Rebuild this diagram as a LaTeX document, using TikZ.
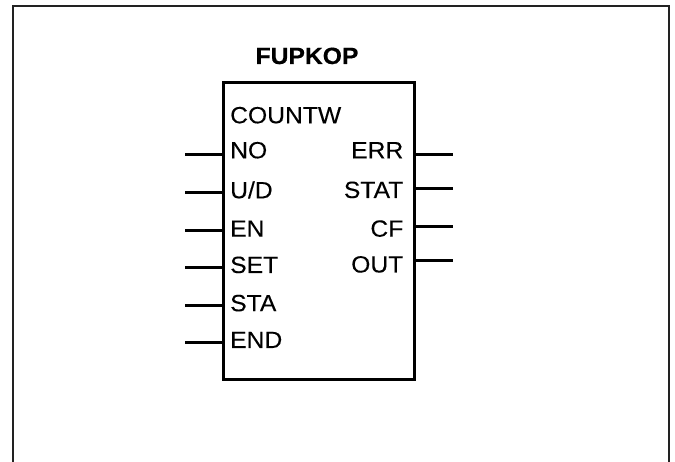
\documentclass[tikz,border=0pt]{standalone}
\usepackage{fontspec}
\setmainfont{Liberation Sans}[FakeStretch=1.05,
  UprightFeatures={FakeBold=0.15}, BoldFeatures={FakeBold=0.4}]
\usepackage{xcolor}
\usepackage{tikz}
\usetikzlibrary{positioning}
\definecolor{frame}{HTML}{222222}

\begin{document}
\begin{tikzpicture}[x=1pt, y=-1pt,
    pinline/.style={line width=3pt},
    pinlbl/.style={font=\fontsize{23.5}{26}\selectfont, inner sep=0pt}]
  \useasboundingbox (0,0) rectangle (675,462);
  \draw[line width=2pt, frame] (12.7,462) -- (12.7,5.7) -- (669,5.7) -- (669,462);
  \node[draw, line width=3pt, minimum width=191.5pt, minimum height=297pt,
        inner sep=0pt] (fb) at (318.75,231.5) {};
  \node[font=\fontsize{23.5}{26}\selectfont\bfseries, inner sep=0pt, anchor=base]
    (title) at (307,64) {FUPKOP};
  \node[pinlbl, anchor=base west] (type) at (230,123.3) {COUNTW};
  \foreach \i/\txt/\ty/\py in {1/NO/158.3/155, 2/{U/D}/198.3/193, 3/EN/236.7/231,
                               4/SET/273/268, 5/STA/311.2/306, 6/END/348/343} {
    \node[pinlbl, anchor=base west] (in\i) at (230,\ty) {\txt};
    \coordinate (inpin\i) at (185,\py);
    \draw[pinline] (inpin\i) -- (inpin\i -| fb.west);
  }
  \foreach \i/\txt/\ty/\py in {1/ERR/158.3/155, 2/STAT/198/189,
                               3/CF/236.7/227, 4/OUT/272.5/261} {
    \node[pinlbl, anchor=base east] (out\i) at (403.5,\ty) {\txt};
    \coordinate (outpin\i) at (452.7,\py);
    \draw[pinline] (outpin\i -| fb.east) -- (outpin\i);
  }
\end{tikzpicture}
\end{document}
